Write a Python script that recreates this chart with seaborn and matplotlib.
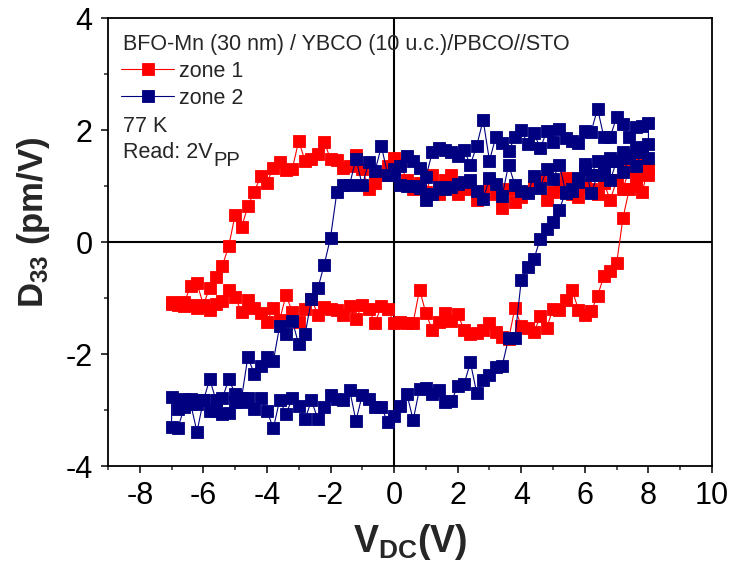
import numpy as np
import pandas as pd
import seaborn as sns
import matplotlib
matplotlib.use("Agg")
import matplotlib.pyplot as plt
from matplotlib.ticker import MultipleLocator

# ---------------- data ----------------
# zone 1 : upward sweep (-7 -> 8) then downward sweep (8 -> -7)
z1_up_v = [-7.0, -6.8, -6.6, -6.4, -6.2, -6.0, -5.8, -5.6, -5.4, -5.2, -5.0, -4.8, -4.6, -4.4, -4.2, -4.0,
           -3.8, -3.6, -3.4, -3.2, -3.0, -2.8, -2.6, -2.4, -2.2, -2.0, -1.8, -1.6, -1.4, -1.2, -1.0, -0.8,
           -0.6, -0.4, -0.2, 0.0, 0.2, 0.4, 0.6, 0.8, 1.0, 1.2, 1.4, 1.6, 1.8, 2.0, 2.2, 2.4, 2.6, 2.8,
           3.0, 3.2, 3.4, 3.6, 3.8, 4.0, 4.2, 4.4, 4.6, 4.8, 5.0, 5.2, 5.4, 5.6, 5.8, 6.0, 6.2, 6.4, 6.6,
           6.8, 7.0, 7.2, 7.4, 7.6, 7.8, 8.0]
z1_up_d = [-1.10, -1.11, -1.14, -1.13, -1.18, -1.15, -1.22, -1.10, -1.06, -0.85, -0.99, -1.25, -1.03, -1.18,
           -1.27, -1.42, -1.18, -1.39, -0.95, -1.25, -1.42, -1.19, -1.01, -1.30, -1.16, -1.20, -1.22, -1.30,
           -1.15, -1.38, -1.12, -1.20, -1.44, -1.15, -1.20, -1.45, -1.42, -1.44, -1.44, -0.85, -1.27, -1.57,
           -1.43, -1.27, -1.41, -1.28, -1.57, -1.65, -1.62, -1.58, -1.45, -1.61, -1.69, -1.74, -1.18, -1.50,
           -1.54, -1.61, -1.33, -1.53, -1.19, -1.22, -1.04, -0.86, -1.21, -1.30, -1.24, -0.96, -0.61, -0.51,
           -0.38, 0.43, 0.95, 1.15, 0.90, 1.30]
z1_dn_v = [8.0, 7.8, 7.6, 7.4, 7.2, 7.0, 6.8, 6.6, 6.4, 6.2, 6.0, 5.8, 5.6, 5.4, 5.2, 5.0, 4.8, 4.6, 4.4,
           4.2, 4.0, 3.8, 3.6, 3.4, 3.2, 3.0, 2.8, 2.6, 2.4, 2.2, 2.0, 1.8, 1.6, 1.4, 1.2, 1.0, 0.8, 0.6,
           0.4, 0.2, 0.0, -0.2, -0.4, -0.6, -0.8, -1.0, -1.2, -1.4, -1.6, -1.8, -2.0, -2.2, -2.4, -2.6,
           -2.8, -3.0, -3.2, -3.4, -3.6, -3.8, -4.0, -4.2, -4.4, -4.6, -4.8, -5.0, -5.2, -5.4, -5.6, -5.8,
           -6.0, -6.2, -6.4, -6.6, -6.8, -7.0]
z1_dn_d = [1.20, 1.45, 1.00, 1.30, 0.95, 1.10, 0.75, 1.05, 0.85, 0.95, 1.00, 0.80, 0.85, 1.15, 1.00, 0.90,
           0.75, 1.10, 1.00, 0.90, 0.80, 0.72, 0.95, 0.60, 0.85, 1.10, 0.90, 0.75, 0.95, 1.00, 0.85, 1.20,
           1.10, 0.85, 1.20, 0.90, 1.05, 0.95, 1.10, 1.40, 1.50, 1.35, 1.20, 1.05, 0.95, 1.30, 1.55, 1.35,
           1.32, 1.46, 1.48, 1.79, 1.58, 1.49, 1.44, 1.81, 1.31, 1.28, 1.43, 1.33, 1.06, 1.17, 0.90, 0.64,
           0.26, 0.49, -0.07, -0.42, -0.63, -0.82, -1.12, -0.74, -0.78, -1.08, -1.12, -1.08]

# zone 2 : start 0 -> 8, downward 8 -> -7, upward -7 -> 8
z2_a_v = [0.0, 0.2, 0.4, 0.6, 0.8, 1.0, 1.2, 1.4, 1.6, 1.8, 2.0, 2.2, 2.4, 2.6, 2.8, 3.0, 3.2, 3.4, 3.6,
          3.8, 4.0, 4.2, 4.4, 4.6, 4.8, 5.0, 5.2, 5.4, 5.6, 5.8, 6.0, 6.2, 6.4, 6.6, 6.8, 7.0, 7.2, 7.4,
          7.6, 7.8, 8.0]
z2_a_d = [1.20, 1.02, 1.00, 1.00, 0.96, 0.75, 0.85, 0.98, 0.95, 0.98, 1.04, 1.07, 1.10, 0.91, 0.76, 1.14,
          1.03, 0.82, 1.38, 1.02, 0.91, 0.88, 1.17, 0.97, 1.31, 1.13, 1.38, 0.88, 0.91, 1.14, 1.39, 0.87,
          1.20, 1.30, 1.10, 1.45, 1.25, 1.50, 1.35, 1.60, 1.50]
z2_dn_v = z1_dn_v
z2_dn_d = [2.12, 2.07, 2.05, 1.87, 2.10, 2.23, 1.88, 1.87, 2.38, 1.97, 1.99, 1.76, 1.81, 1.85, 2.02, 1.79,
           1.98, 1.67, 1.95, 1.75, 2.00, 1.87, 1.62, 1.76, 1.88, 1.45, 2.18, 1.72, 1.38, 1.64, 1.54, 1.60,
           1.65, 1.67, 1.60, 1.16, 1.33, 1.45, 1.53, 1.35, 1.30, 1.20, 1.71, 1.27, 1.43, 1.01, 1.49, 1.02,
           1.02, 0.89, 0.08, -0.41, -0.83, -1.02, -1.65, -1.83, -1.41, -1.64, -1.50, -2.13, -2.06, -2.22,
           -2.36, -2.05, -2.79, -2.71, -2.45, -2.79, -2.83, -2.45, -2.83, -2.89, -2.80, -2.80, -2.98, -2.77]
z2_up_v = z1_up_v
z2_up_d = [-3.30, -3.32, -2.95, -2.89, -3.39, -2.83, -3.02, -3.02, -3.07, -3.05, -2.86, -2.86, -2.79, -2.99,
           -2.78, -3.01, -3.33, -2.82, -3.07, -2.79, -2.92, -3.16, -2.83, -3.16, -2.95, -2.74, -2.80, -2.82,
           -2.64, -3.19, -2.73, -2.80, -2.95, -2.95, -3.22, -3.11, -2.92, -2.71, -3.18, -2.62, -2.60, -2.72,
           -2.65, -2.86, -2.84, -2.58, -2.54, -2.15, -2.70, -2.47, -2.38, -2.24, -2.21, -1.72, -1.72, -0.68,
           -0.44, -0.30, 0.06, 0.24, 0.36, 0.58, 0.90, 0.95, 1.07, 1.30, 1.20, 1.45, 1.35, 1.50, 1.45, 1.60,
           1.55, 1.70, 1.60, 1.75]

x_ticks = [-8, -6, -4, -2, 0, 2, 4, 6, 8, 10]
y_ticks = [-4, -2, 0, 2, 4]

zone1 = pd.DataFrame({"V": z1_up_v + z1_dn_v, "D": z1_up_d + z1_dn_d})
zone2 = pd.DataFrame({"V": z2_a_v + z2_dn_v + z2_up_v, "D": z2_a_d + z2_dn_d + z2_up_d})

# ---------------- style ----------------
sns.set_theme(style="ticks")
plt.rcParams["font.family"] = ["Liberation Sans", "DejaVu Sans"]
plt.rcParams["mathtext.fontset"] = "custom"
plt.rcParams["mathtext.rm"] = "Liberation Sans"
plt.rcParams["mathtext.it"] = "Liberation Sans"
plt.rcParams["mathtext.bf"] = "Liberation Sans:bold"
plt.rcParams["axes.unicode_minus"] = False

fig = plt.figure(figsize=(7.33, 5.63), dpi=100)
ax = fig.add_axes([108 / 733, 1 - 466 / 563, 604 / 733, 448 / 563])

RED = "#ff0000"
NAVY = "#000080"
common = dict(sort=False, estimator=None, marker="s", markersize=8, linewidth=0.8,
              markeredgewidth=0.6, ax=ax)
sns.lineplot(data=zone1, x="V", y="D", color=RED, markeredgecolor=RED,
             markerfacecolor=RED, label="zone 1", **common)
sns.lineplot(data=zone2, x="V", y="D", color=NAVY, markeredgecolor=NAVY,
             markerfacecolor=NAVY, label="zone 2", **common)

ax.axhline(0, color="black", lw=1.5, zorder=0.5)
ax.axvline(0, color="black", lw=1.5, zorder=0.5)

ax.set_xlim(-9, 10)
ax.set_ylim(-4, 4)
ax.set_xticks(x_ticks)
ax.set_yticks(y_ticks)
ax.xaxis.set_minor_locator(MultipleLocator(1))
ax.yaxis.set_minor_locator(MultipleLocator(1))
ax.tick_params(which="major", direction="out", length=5, width=1.1, labelsize=22, pad=6,
               top=False, right=False, colors="black")
ax.tick_params(which="minor", direction="out", length=3, width=1.1, top=False, right=False)
for s in ax.spines.values():
    s.set_linewidth(1.3)
    s.set_color("black")

ax.set_xlabel(r"V$_{\mathbf{DC}}$(V)", fontsize=27, fontweight="bold", labelpad=8)
ax.set_ylabel(r"D$_{\mathbf{33}}$ (pm/V)", fontsize=25, fontweight="bold")
ax.yaxis.set_label_coords(-0.092, 0.545)

leg = ax.legend(loc="upper left", bbox_to_anchor=(0.022, 0.905), frameon=False, fontsize=15.5,
                handlelength=2.45, handletextpad=0.25, labelspacing=0.28, borderpad=0,
                borderaxespad=0, numpoints=1)

ax.text(0.025, 0.940, "BFO-Mn (30 nm) / YBCO (10 u.c.)/PBCO//STO", transform=ax.transAxes,
        fontsize=15.5, va="center", ha="left")
ax.text(0.025, 0.758, "77 K", transform=ax.transAxes, fontsize=15.5, va="center", ha="left")
t_read = ax.text(0.025, 0.700, "Read: 2V", transform=ax.transAxes, fontsize=15.5,
                 va="center", ha="left")
ax.annotate("PP", xy=(1.0, 0.5), xycoords=t_read, xytext=(0.5, -6), textcoords="offset points",
            fontsize=14.5, va="center", ha="left")

fig.savefig("out.png", dpi=100)
